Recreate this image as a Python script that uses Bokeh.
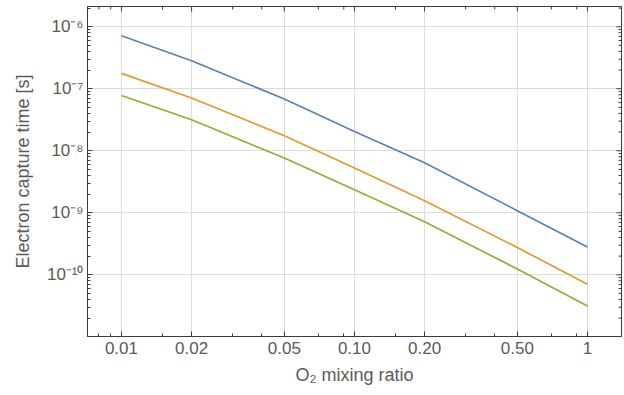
import math
from bokeh.plotting import figure
from bokeh.models import FixedTicker, Range1d
from bokeh.embed import file_html
from bokeh.resources import INLINE

# ---- data ----
o2_ratio = [0.01, 0.02, 0.05, 0.1, 0.2, 0.5, 1.0]
tau_blue = [7.16e-7, 2.83e-7, 6.82e-8, 2.05e-8, 6.4e-9, 1.08e-9, 2.8e-10]
tau_orange = [1.77e-7, 7.08e-8, 1.75e-8, 5.26e-9, 1.56e-9, 2.75e-10, 7.0e-11]
tau_green = [7.8e-8, 3.16e-8, 7.62e-9, 2.35e-9, 7.16e-10, 1.24e-10, 3.13e-11]

x_ticks = [0.01, 0.02, 0.05, 0.1, 0.2, 0.5, 1.0]
x_tick_labels = ["0.01", "0.02", "0.05", "0.10", "0.20", "0.50", "1"]
x_minor = [0.007, 0.008, 0.009, 0.015, 0.03, 0.04, 0.07, 0.09, 0.15, 0.3, 0.4, 0.7, 0.9]
y_ticks = [1e-10, 1e-9, 1e-8, 1e-7, 1e-6]
y_tick_labels = ["10\u207b\u00b9\u2070", "10\u207b\u2079", "10\u207b\u2078", "10\u207b\u2077", "10\u207b\u2076"]
y_minor = [m * 10.0 ** e for e in range(-12, -5) for m in range(2, 10)]

X_MIN, X_MAX = 0.00715, 1.40
Y_MIN, Y_MAX = 1.01e-11, 2.12e-6

FONT = "Liberation Sans"
FRAME = "#3c3c3c"
TEXT = "#5a5a5a"
GRID = "#dcdcdc"

p = figure(width=624, height=395, x_axis_type="log", y_axis_type="log",
           x_range=Range1d(X_MIN, X_MAX), y_range=Range1d(Y_MIN, Y_MAX),
           output_backend="svg", toolbar_location=None,
           min_border_left=87, min_border_right=3, min_border_top=6, min_border_bottom=59)
p.outline_line_color = FRAME
p.outline_line_width = 1
p.background_fill_color = "white"
p.border_fill_color = "white"

p.xgrid.ticker = FixedTicker(ticks=x_ticks)
p.ygrid.ticker = FixedTicker(ticks=y_ticks)
for g in (p.xgrid, p.ygrid):
    g.grid_line_color = GRID
    g.grid_line_width = 1


def style(ax, ticker):
    ax.ticker = ticker
    ax.axis_line_color = FRAME
    ax.axis_line_width = 1
    ax.major_tick_line_color = FRAME
    ax.minor_tick_line_color = FRAME
    ax.major_tick_in = 5
    ax.major_tick_out = 0
    ax.minor_tick_in = 3
    ax.minor_tick_out = 0
    ax.major_label_text_font = FONT
    ax.major_label_text_font_size = "17px"
    ax.major_label_text_color = TEXT
    ax.axis_label_text_font = FONT
    ax.axis_label_text_font_size = "18px"
    ax.axis_label_text_font_style = "normal"
    ax.axis_label_text_color = TEXT


xa = p.xaxis[0]
style(xa, FixedTicker(ticks=x_ticks, minor_ticks=x_minor))
xa.major_label_overrides = dict(zip(x_ticks, x_tick_labels))
xa.axis_label = "O\u2082 mixing ratio"
xa.major_label_standoff = 5
xa.axis_label_standoff = 8

ya = p.yaxis[0]
style(ya, FixedTicker(ticks=y_ticks, minor_ticks=y_minor))
ya.major_label_overrides = dict(zip(y_ticks, y_tick_labels))
ya.axis_label = "Electron capture time [s]"
ya.major_label_standoff = 4
ya.axis_label_standoff = 11

# frame ticks on the top and right edges (half of each dash is clipped by the frame)
p.scatter(x_ticks, [Y_MAX] * len(x_ticks), marker="dash", angle=math.pi / 2, size=10,
          line_color=FRAME, line_width=1)
p.scatter(x_minor, [Y_MAX] * len(x_minor), marker="dash", angle=math.pi / 2, size=6,
          line_color=FRAME, line_width=1)
p.scatter([X_MAX] * len(y_ticks), y_ticks, marker="dash", size=10,
          line_color=FRAME, line_width=1)
p.scatter([X_MAX] * len(y_minor), y_minor, marker="dash", size=6,
          line_color=FRAME, line_width=1)

p.line(o2_ratio, tau_blue, line_color="#5E81B5", line_width=1.7)
p.line(o2_ratio, tau_orange, line_color="#E19C24", line_width=1.7)
p.line(o2_ratio, tau_green, line_color="#8FB032", line_width=1.7)

open("out.html", "w").write(file_html(p, INLINE))
